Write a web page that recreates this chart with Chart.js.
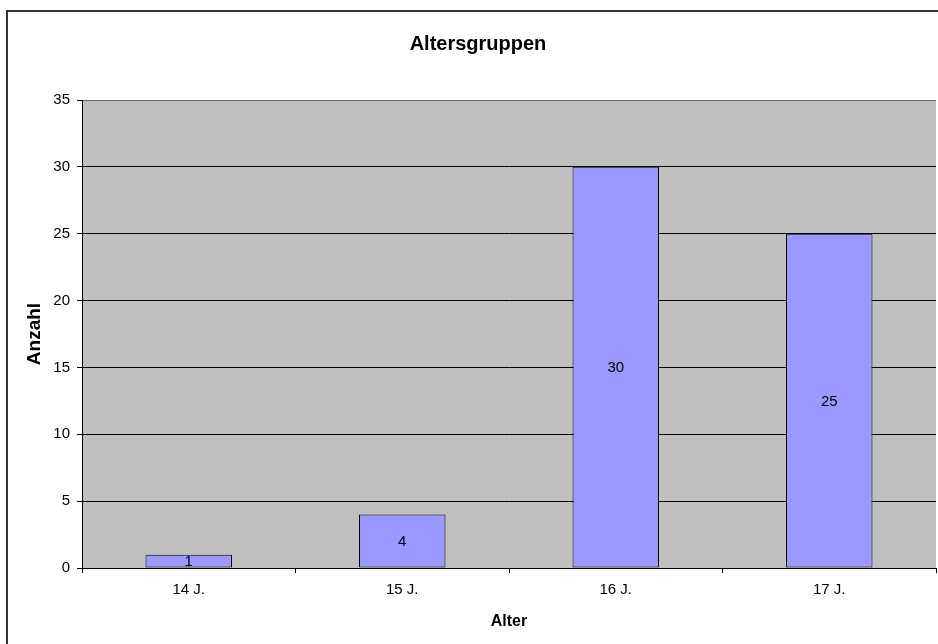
<!DOCTYPE html>
<html>
<head>
<meta charset="utf-8">
<script src="https://cdn.jsdelivr.net/npm/chart.js@4/dist/chart.umd.min.js"></script>
<style>
  html, body { margin: 0; padding: 0; background: #fff; }
  #wrap { width: 938px; height: 644px; }
</style>
</head>
<body>
<div id="wrap"><canvas id="alter"></canvas></div>
<script>
var kategorien = ["14 J.", "15 J.", "16 J.", "17 J."];
var anzahl = [1, 4, 30, 25];
var yMax = 35;
var yStep = 5;

var FONT = "'Liberation Sans', Arial, sans-serif";

// grauer Plotbereich + Rahmen um das ganze Diagramm
var hintergrund = {
  id: "hintergrund",
  beforeDraw: function (chart) {
    var c = chart.ctx, a = chart.chartArea;
    c.save();
    c.fillStyle = "#fff";
    c.fillRect(0, 0, chart.width, chart.height);
    c.fillStyle = "#C0C0C0";
    c.fillRect(a.left, a.top, a.right - a.left, a.bottom - a.top);
    c.strokeStyle = "#333";
    c.lineWidth = 2;
    c.beginPath();
    c.moveTo(7, chart.height + 5);
    c.lineTo(7, 11);
    c.lineTo(chart.width + 5, 11);
    c.stroke();
    c.restore();
  }
};

// Werte mittig in die Balken schreiben
var werte = {
  id: "werte",
  afterDatasetsDraw: function (chart) {
    var c = chart.ctx;
    var meta = chart.getDatasetMeta(0);
    c.save();
    c.font = "15px " + FONT;
    c.fillStyle = "#000";
    c.textAlign = "center";
    c.textBaseline = "middle";
    meta.data.forEach(function (bar, i) {
      var y = (bar.y + bar.base) / 2;
      c.fillText(String(anzahl[i]), bar.x, y + 1);
    });
    c.restore();
  }
};

var ctx = document.getElementById("alter").getContext("2d");
var chart = new Chart(ctx, {
  type: "bar",
  data: {
    labels: kategorien,
    datasets: [{
      label: "Anzahl",
      data: anzahl,
      backgroundColor: "#9999FF",
      borderColor: "#000",
      borderWidth: 1,
      borderSkipped: false,
      categoryPercentage: 1.0,
      barPercentage: 0.405
    }]
  },
  options: {
    responsive: true,
    maintainAspectRatio: false,
    animation: false,
    events: [],
    layout: { padding: { left: 20, right: 2, top: 0, bottom: 0 } },
    plugins: {
      legend: { display: false },
      tooltip: { enabled: false },
      title: {
        display: true,
        text: "Altersgruppen",
        color: "#000",
        font: { family: FONT, size: 20, weight: "bold" },
        padding: { top: 32, bottom: 44 }
      }
    },
    scales: {
      x: {
        offset: true,
        afterFit: function (s) { s.height = 76; },
        grid: {
          offset: true,
          drawOnChartArea: false,
          drawTicks: true,
          tickLength: 5,
          color: "#000"
        },
        border: { display: true, color: "#000", width: 1 },
        ticks: {
          color: "#000",
          padding: 8,
          font: { family: FONT, size: 15 }
        },
        title: {
          display: true,
          text: "Alter",
          color: "#000",
          font: { family: FONT, size: 16, weight: "bold" },
          padding: { top: 0, bottom: 12.4 }
        }
      },
      y: {
        min: 0,
        max: yMax,
        afterFit: function (s) { s.width = 62; },
        grid: {
          color: function (c) { return c.tick && c.tick.value === yMax ? "#666" : "#000"; },
          lineWidth: 1,
          drawTicks: true,
          tickLength: 5,
          tickColor: "#000"
        },
        border: { display: true, color: "#000", width: 1 },
        ticks: {
          stepSize: yStep,
          color: "#000",
          padding: 7,
          font: { family: FONT, size: 15 }
        },
        title: {
          display: true,
          text: "Anzahl",
          color: "#000",
          font: { family: FONT, size: 19, weight: "bold" },
          padding: { top: 3.6, bottom: 0 }
        }
      }
    }
  },
  plugins: [hintergrund, werte]
});
</script>
</body>
</html>
